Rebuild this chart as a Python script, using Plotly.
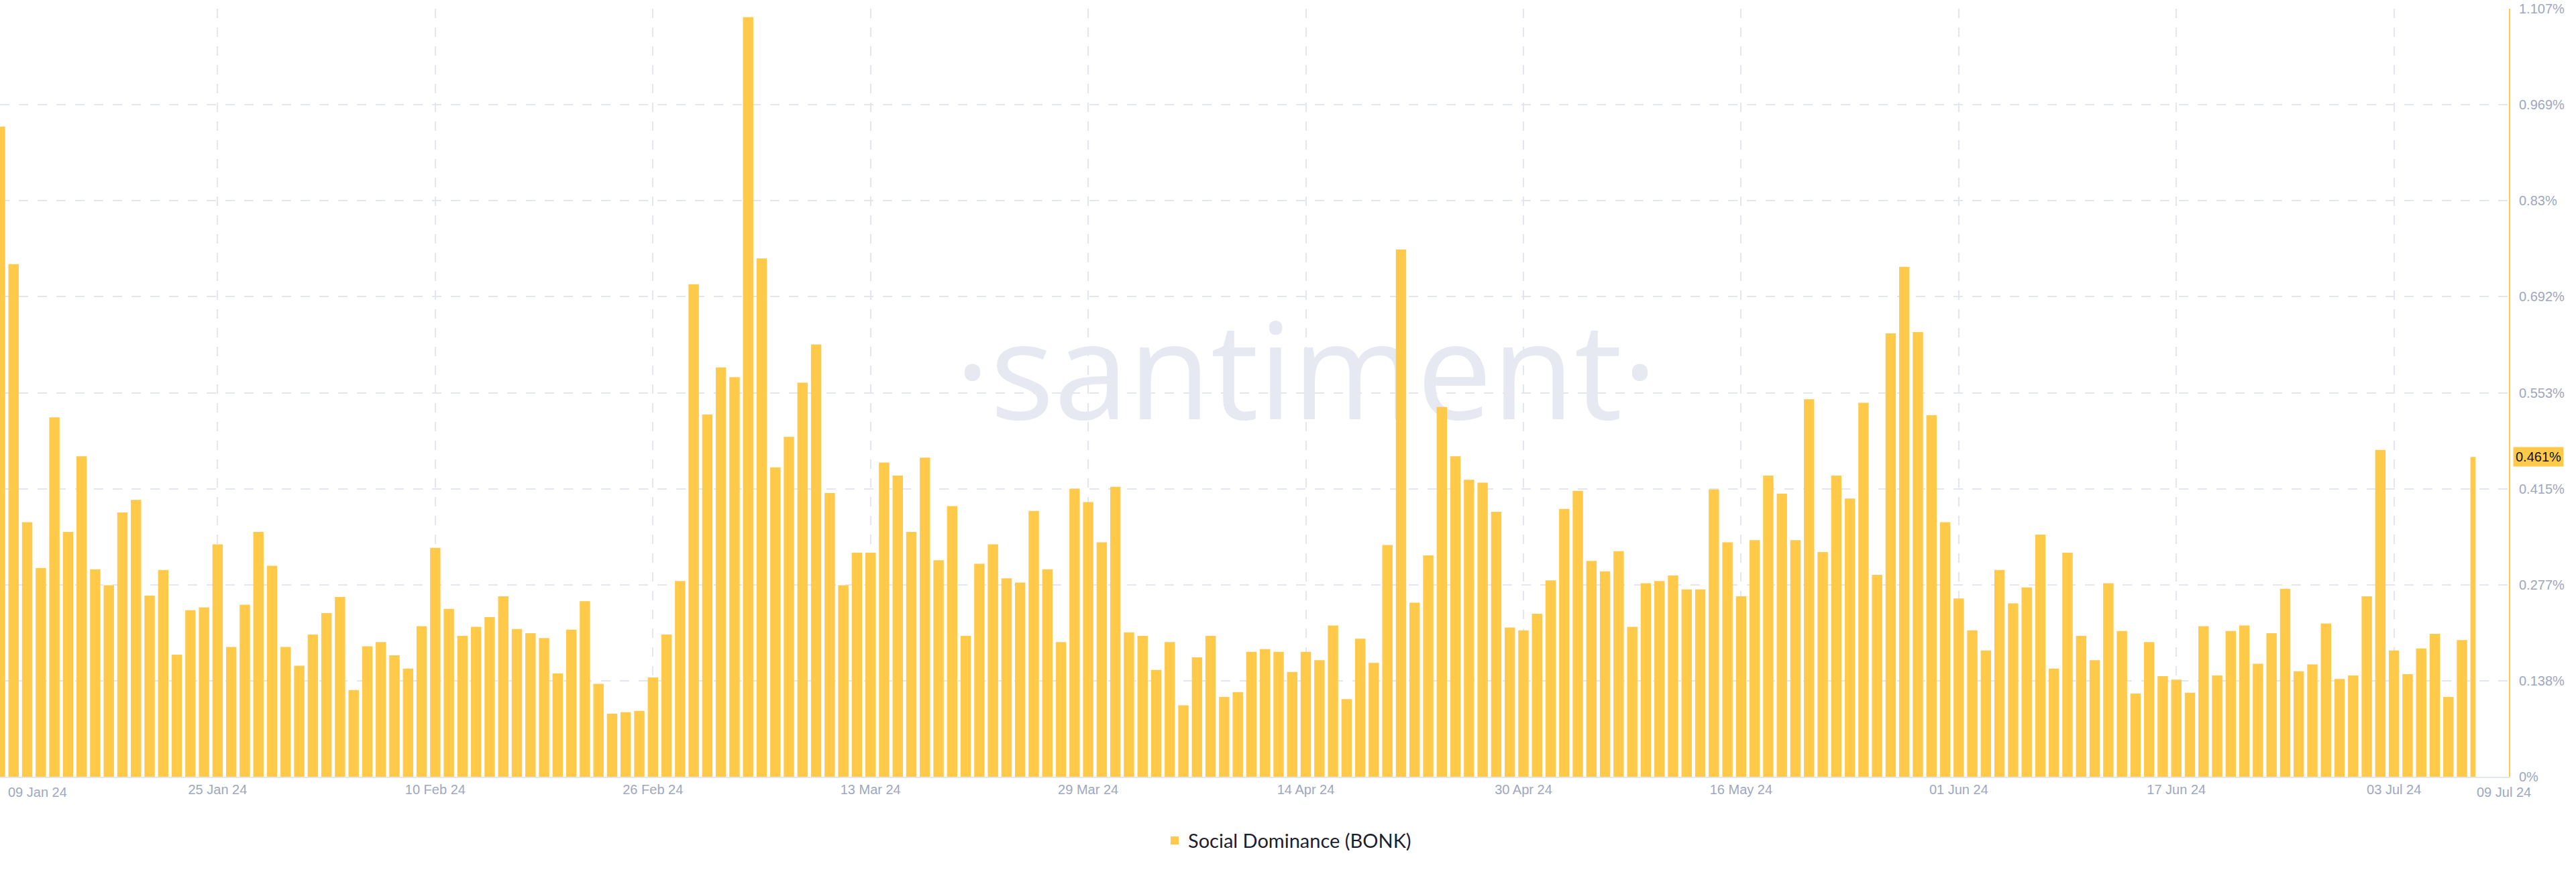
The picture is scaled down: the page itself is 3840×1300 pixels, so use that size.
import pandas as pd
import plotly.graph_objects as go

# ---------------- data ----------------
start_date = "2024-01-09"
end_date = "2024-07-09"

jan_values = [0.937, 0.739, 0.367, 0.301, 0.518, 0.353, 0.462, 0.299, 0.276, 0.381,
              0.399, 0.261, 0.298, 0.176, 0.240, 0.244, 0.335, 0.187, 0.248, 0.353,
              0.304, 0.187, 0.160]
feb_values = [0.205, 0.236, 0.259, 0.125, 0.188, 0.194, 0.175, 0.156, 0.217, 0.330,
              0.242, 0.203, 0.216, 0.230, 0.260, 0.213, 0.207, 0.200, 0.149, 0.212,
              0.253, 0.134, 0.091, 0.093, 0.095, 0.143, 0.205, 0.282, 0.710]
mar_values = [0.522, 0.590, 0.576, 1.095, 0.747, 0.446, 0.490, 0.568, 0.623, 0.409,
              0.276, 0.323, 0.323, 0.453, 0.434, 0.353, 0.460, 0.312, 0.390, 0.203,
              0.307, 0.335, 0.286, 0.280, 0.383, 0.299, 0.194, 0.415, 0.396, 0.338,
              0.418]
apr_values = [0.208, 0.203, 0.154, 0.194, 0.103, 0.172, 0.203, 0.115, 0.122, 0.180,
              0.184, 0.180, 0.151, 0.180, 0.168, 0.218, 0.112, 0.199, 0.164, 0.334,
              0.760, 0.251, 0.319, 0.533, 0.462, 0.428, 0.424, 0.382, 0.215, 0.211]
may_values = [0.235, 0.283, 0.386, 0.412, 0.311, 0.296, 0.325, 0.216, 0.279, 0.282,
              0.290, 0.270, 0.270, 0.414, 0.338, 0.260, 0.341, 0.434, 0.408, 0.341,
              0.544, 0.324, 0.434, 0.401, 0.539, 0.291, 0.639, 0.735, 0.641, 0.521,
              0.367]
jun_values = [0.257, 0.211, 0.182, 0.298, 0.250, 0.273, 0.349, 0.156, 0.323, 0.203,
              0.168, 0.279, 0.210, 0.120, 0.194, 0.145, 0.140, 0.121, 0.217, 0.146,
              0.210, 0.218, 0.163, 0.207, 0.271, 0.152, 0.162, 0.221, 0.141, 0.146]
jul_values = [0.260, 0.471, 0.182, 0.148, 0.185, 0.206, 0.115, 0.197, 0.461]

values = jan_values + feb_values + mar_values + apr_values + may_values + jun_values + jul_values
dates = pd.date_range(start_date, end_date, freq="D")

tick_dates = ["2024-01-25", "2024-02-10", "2024-02-26", "2024-03-13", "2024-03-29",
              "2024-04-14", "2024-04-30", "2024-05-16", "2024-06-01", "2024-06-17",
              "2024-07-03"]
tick_labels = ["25 Jan 24", "10 Feb 24", "26 Feb 24", "13 Mar 24", "29 Mar 24",
               "14 Apr 24", "30 Apr 24", "16 May 24", "01 Jun 24", "17 Jun 24",
               "03 Jul 24"]
first_label = "09 Jan 24"
last_label = "09 Jul 24"

y_max = 1.107
y_tick_labels = ["0%", "0.138%", "0.277%", "0.415%", "0.553%", "0.692%", "0.83%",
                 "0.969%", "1.107%"]
last_value_label = "0.461%"
series_name = "Social Dominance (BONK)"
watermark = "\u00b7santiment\u00b7"

# ---------------- styling ----------------
BAR = "#ffc94a"
GRID = "#e3e6ef"
TICK = "#9ea7c0"
DAY_MS = 86400000

x0 = pd.Timestamp(start_date)
x1 = x0 + pd.Timedelta(days=184.45)
x_range = [x0.strftime("%Y-%m-%d %H:%M:%S"), x1.strftime("%Y-%m-%d %H:%M:%S")]
y_range = [0, y_max]
y_tickvals = [y_max * k / 8 for k in range(9)]

bar_w = 0.76 * DAY_MS
widths = [bar_w] * len(values)
offsets = [-bar_w / 2] * len(values)
widths[-1] = bar_w / 2  # last (partial) day drawn as left half

fig = go.Figure()

# watermark on the base subplot (drawn beneath bars)
wm_x = x0 + (x1 - x0) * 0.5206
fig.add_trace(go.Scatter(
    x=[wm_x], y=[y_max * 0.509], mode="text", text=[watermark],
    textfont=dict(family="Open Sans, sans-serif", size=200, color="#e6e8f2"),
    hoverinfo="skip", showlegend=False, cliponaxis=False,
))

fig.add_trace(go.Bar(
    x=dates, y=values, name=series_name,
    xaxis="x2", yaxis="y2",
    width=widths, offset=offsets,
    marker=dict(color=BAR, line=dict(width=0)),
))

fig.update_layout(
    width=3840, height=1300,
    margin=dict(l=0, r=100, t=13, b=142),
    paper_bgcolor="white", plot_bgcolor="white",
    font=dict(family="Liberation Sans, Arial, sans-serif", size=20, color=TICK),
    showlegend=True,
    legend=dict(
        orientation="h", x=1920 / 3740, xanchor="center", y=-0.083, yanchor="middle",
        font=dict(family="Lato, sans-serif", size=29, color="#1d2030"),
        bgcolor="rgba(0,0,0,0)",
    ),
    xaxis=dict(
        type="date", range=x_range,
        tickvals=[start_date] + tick_dates, ticktext=[""] + tick_labels,
        showgrid=True, gridcolor=GRID, gridwidth=2, griddash="14px,14px",
        showline=True, linecolor="#e3e6ee", linewidth=2,
        ticks="", tickfont=dict(size=20, color=TICK),
        zeroline=False, fixedrange=True,
    ),
    yaxis=dict(
        side="right", range=y_range,
        tickvals=y_tickvals, ticktext=y_tick_labels,
        showgrid=True, gridcolor=GRID, gridwidth=2, griddash="14px,14px",
        showline=True, linecolor=BAR, linewidth=2,
        ticks="", tickfont=dict(size=20, color=TICK), ticklabelstandoff=9,
        zeroline=False,
    ),
    xaxis2=dict(type="date", range=x_range, overlaying="x", visible=False),
    yaxis2=dict(range=y_range, overlaying="y", visible=False),
    annotations=[
        dict(text=first_label, x=start_date, xref="x", y=0, yref="paper",
             xanchor="left", yanchor="top", xshift=10, yshift=-10, showarrow=False,
             font=dict(size=20, color=TICK)),
        dict(text=last_label, x=end_date, xref="x", y=0, yref="paper",
             xanchor="left", yanchor="top", xshift=0, yshift=-10, showarrow=False,
             font=dict(size=20, color=TICK)),
        dict(text=last_value_label, x=1, xref="paper", y=values[-1], yref="y",
             xanchor="left", yanchor="middle", xshift=6, showarrow=False,
             bgcolor=BAR, borderpad=3, font=dict(size=20, color="#111111")),
    ],
)

fig.write_html("out.html", config={"displayModeBar": False},
               post_script="document.body.style.margin='0';")
